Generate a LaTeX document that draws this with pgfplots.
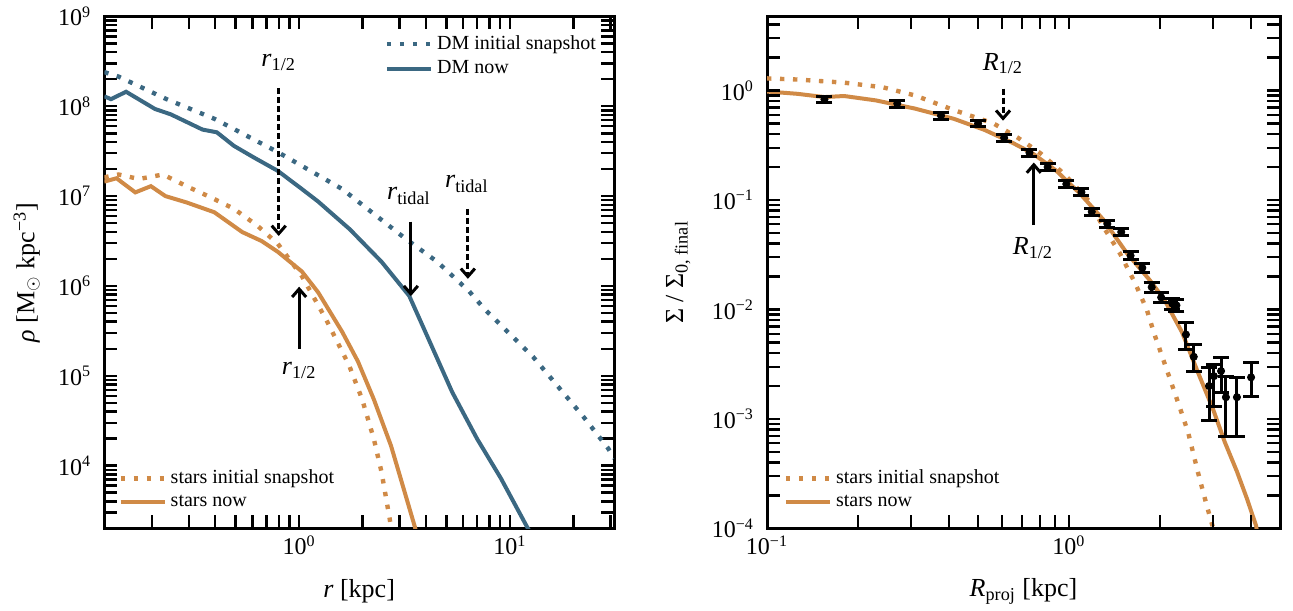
\documentclass[border=0pt]{standalone}
\usepackage{pgfplots}
\pgfplotsset{compat=1.18}
\usepackage{fontspec}
\setmainfont{Liberation Serif}
\usetikzlibrary{arrows.meta}
\definecolor{dmc}{RGB}{59,104,130}
\definecolor{stc}{RGB}{208,138,70}
\tikzset{
  solidl/.style={line width=2pt},
  dotl/.style={line width=2.2pt, dash pattern=on 2.2pt off 4.3pt},
  arr/.style={line width=1.5pt, -{Straight Barb[length=4pt,width=7pt]}},
  darr/.style={line width=1.5pt, dash pattern=on 3pt off 1.5pt, -{Straight Barb[length=4pt,width=7pt]}},
  annot/.style={font=\fontsize{13}{15}\selectfont},
  tk/.style={line width=1.2pt, black},
}
\begin{document}
\begin{tikzpicture}
\path (0,0) rectangle (646.5pt,305pt);
% ---------------- left panel: stars ----------------
\begin{loglogaxis}[
  scale only axis,
  at={(52.15pt,41pt)}, anchor=south west, width=254.85pt, height=256pt,
  xmin=0.119, xmax=31.2, ymin=2000, ymax=1e9,
  axis line style={line width=1.5pt},
  tick align=inside, major tick length=6.5pt, minor tick length=6.5pt,
  xtick style={line width=1.2pt, black}, ytick style={line width=1.2pt, black},
  tick label style={font=\fontsize{12}{14}\selectfont},
  yticklabel style={xshift=-3pt},
  xtick={1,10}, xticklabels={10\textsuperscript{0},10\textsuperscript{1}},
  minor xtick={0.2,0.3,0.4,0.5,0.6,0.7,0.8,0.9,2,3,4,5,6,7,8,9,20,30},
  ytick={1e4,1e5,1e6,1e7,1e8,1e9},
  yticklabels={10\textsuperscript{4},10\textsuperscript{5},10\textsuperscript{6},10\textsuperscript{7},10\textsuperscript{8},10\textsuperscript{9}},
  minor ytick={3e3,4e3,5e3,6e3,7e3,8e3,9e3,2e4,3e4,4e4,5e4,6e4,7e4,8e4,9e4,2e5,3e5,4e5,5e5,6e5,7e5,8e5,9e5,2e6,3e6,4e6,5e6,6e6,7e6,8e6,9e6,2e7,3e7,4e7,5e7,6e7,7e7,8e7,9e7,2e8,3e8,4e8,5e8,6e8,7e8,8e8,9e8},
  xlabel={\textit{r} [kpc]},
  ylabel={\textit{ρ} [M\textsubscript{$\odot$} kpc\textsuperscript{−3}]},
  xlabel style={font=\fontsize{13}{15}\selectfont, at={(axis description cs:0.5,-0.123)}, anchor=center},
  ylabel style={font=\fontsize{13}{15}\selectfont, at={(axis description cs:-0.152,0.5)}, anchor=center},
  legend cell align=left,
  legend image code/.code={\draw[#1] (0pt,0pt) -- (22pt,0pt);},
  legend style={draw=none, fill=none, font=\fontsize{10}{12}\selectfont, row sep=2pt, nodes={inner ysep=1pt}, at={(0.015,0.025)}, anchor=south west},
]
\addplot[stc, dotl] coordinates {
(0.119,1.62e7) (0.139,1.74e7) (0.174,1.55e7) (0.226,1.74e7) (0.292,1.29e7)
(0.378,9.77e6) (0.490,7.24e6) (0.634,4.68e6) (0.792,2.95e6) (1.03,1.29e6)
(1.34,4.27e5) (1.73,1.29e5) (1.99,5.5e4) (2.26,2.0e4) (2.46,8.51e3) (2.73,2.09e3) (2.8,1.5e3)};
\addlegendentry{stars initial snapshot}
\addplot[stc, solidl] coordinates {
(0.119,1.45e7) (0.136,1.58e7) (0.167,1.10e7) (0.198,1.29e7) (0.232,1.0e7)
(0.292,8.51e6) (0.396,6.61e6) (0.537,3.98e6) (0.664,3.16e6) (0.792,2.40e6)
(1.03,1.45e6) (1.23,8.51e5) (1.60,3.09e5) (1.90,1.45e5) (2.26,5.5e4)
(2.73,1.66e4) (3.03,7.24e3) (3.54,2.09e3) (3.6,1.8e3)};
\addlegendentry{stars now}
% tick marks on all four sides
\pgfplotsinvokeforeach{0.2,0.3,0.4,0.5,0.6,0.7,0.8,0.9,1,2,3,4,5,6,7,8,9,10,20,30}{
  \draw[tk] (axis cs:#1,2000) -- ([yshift=6.5pt]axis cs:#1,2000);
  \draw[tk] (axis cs:#1,1e9) -- ([yshift=-6.5pt]axis cs:#1,1e9);
}
\pgfplotsinvokeforeach{3e3,4e3,5e3,6e3,7e3,8e3,9e3,1e4,2e4,3e4,4e4,5e4,6e4,7e4,8e4,9e4,1e5,2e5,3e5,4e5,5e5,6e5,7e5,8e5,9e5,1e6,2e6,3e6,4e6,5e6,6e6,7e6,8e6,9e6,1e7,2e7,3e7,4e7,5e7,6e7,7e7,8e7,9e7,1e8,2e8,3e8,4e8,5e8,6e8,7e8,8e8,9e8}{
  \draw[tk] (axis cs:0.119,#1) -- ([xshift=6.5pt]axis cs:0.119,#1);
  \draw[tk] (axis cs:31.2,#1) -- ([xshift=-6.5pt]axis cs:31.2,#1);
}
\end{loglogaxis}
% ---------------- left panel: DM (overlay) ----------------
\begin{loglogaxis}[hide axis, scale only axis,
  at={(52.15pt,41pt)}, anchor=south west, width=254.85pt, height=256pt,
  xmin=0.119, xmax=31.2, ymin=2000, ymax=1e9,
  legend cell align=left,
  legend image code/.code={\draw[#1] (0pt,0pt) -- (22pt,0pt);},
  legend style={draw=none, fill=none, font=\fontsize{10}{12}\selectfont, row sep=2pt, nodes={inner ysep=1pt}, at={(0.985,0.975)}, anchor=north east},
]
\addplot[dmc, dotl] coordinates {
(0.119,2.40e8) (0.139,2.14e8) (0.235,1.20e8) (0.397,7.24e7) (0.792,3.09e7)
(1.60,1.20e7) (3.18,3.39e6) (4.52,1.86e6) (6.41,8.71e5) (7.60,5.50e5)
(12.9,1.62e5) (22.4,3.47e4) (29.3,1.55e4) (31.2,1.2e4)};
\addlegendentry{DM initial snapshot}
\addplot[dmc, solidl] coordinates {
(0.119,1.29e8) (0.128,1.20e8) (0.151,1.45e8) (0.207,9.33e7) (0.246,8.13e7)
(0.348,5.50e7) (0.407,5.13e7) (0.490,3.63e7) (0.610,2.69e7) (0.792,1.91e7)
(1.03,1.20e7) (1.23,8.71e6) (1.74,4.27e6) (2.46,1.86e6) (3.33,7.76e5)
(4.11,2.57e5) (5.32,6.61e4) (6.98,2.0e4) (9.06,7.24e3) (12.05,2.09e3) (12.5,1.8e3)};
\addlegendentry{DM now}
% annotations
\draw[darr] (axis cs:0.80,1.6e8) -- (axis cs:0.80,3.6e6);
\node[annot] at (axis cs:0.80,3.1e8) {\textit{r}\textsubscript{1/2}};
\draw[arr] (axis cs:1.0,2.0e5) -- (axis cs:1.0,9.8e5);
\node[annot] at (axis cs:1.0,1.14e5) {\textit{r}\textsubscript{1/2}};
\draw[arr] (axis cs:3.39,5.2e6) -- (axis cs:3.39,7.7e5);
\node[annot] at (axis cs:3.32,1.0e7) {\textit{r}\textsubscript{tidal}};
\draw[darr] (axis cs:6.32,7.2e6) -- (axis cs:6.32,1.2e6);
\node[annot] at (axis cs:6.25,1.36e7) {\textit{r}\textsubscript{tidal}};
\end{loglogaxis}
% ---------------- right panel ----------------
\begin{loglogaxis}[scale only axis,
  at={(383.5pt,41pt)}, anchor=south west, width=256.5pt, height=256pt,
  xmin=0.1, xmax=5, ymin=1e-4, ymax=4.75,
  axis line style={line width=1.5pt},
  tick align=inside, major tick length=6.5pt, minor tick length=6.5pt,
  xtick style={line width=1.2pt, black}, ytick style={line width=1.2pt, black},
  tick label style={font=\fontsize{12}{14}\selectfont},
  yticklabel style={xshift=-3pt},
  xtick={0.1,1}, xticklabels={10\textsuperscript{−1},10\textsuperscript{0}},
  minor xtick={0.2,0.3,0.4,0.5,0.6,0.7,0.8,0.9,2,3,4},
  ytick={1e-4,1e-3,1e-2,1e-1,1},
  yticklabels={10\textsuperscript{−4},10\textsuperscript{−3},10\textsuperscript{−2},10\textsuperscript{−1},10\textsuperscript{0}},
  minor ytick={2e-4,3e-4,4e-4,5e-4,6e-4,7e-4,8e-4,9e-4,2e-3,3e-3,4e-3,5e-3,6e-3,7e-3,8e-3,9e-3,2e-2,3e-2,4e-2,5e-2,6e-2,7e-2,8e-2,9e-2,0.2,0.3,0.4,0.5,0.6,0.7,0.8,0.9,2,3,4},
  xlabel={\textit{R}\textsubscript{proj} [kpc]},
  ylabel={Σ / Σ\textsubscript{0, final}},
  xlabel style={font=\fontsize{13}{15}\selectfont, at={(axis description cs:0.5,-0.123)}, anchor=center},
  ylabel style={font=\fontsize{13}{15}\selectfont, at={(axis description cs:-0.173,0.5)}, anchor=center},
  legend cell align=left,
  legend image code/.code={\draw[#1] (0pt,0pt) -- (22pt,0pt);},
  legend style={draw=none, fill=none, font=\fontsize{10}{12}\selectfont, row sep=2pt, nodes={inner ysep=1pt}, at={(0.02,0.025)}, anchor=south west},
]
\addplot[stc, dotl] coordinates {
(0.1,1.29) (0.126,1.26) (0.180,1.18) (0.242,1.07) (0.309,0.902) (0.417,0.661)
(0.562,0.501) (0.676,0.372) (0.802,0.269) (0.962,0.174) (1.156,0.1) (1.30,0.0569)
(1.47,0.0331) (1.65,0.0178) (1.81,0.01) (1.91,0.00617) (2.09,0.00302) (2.26,0.00162)
(2.48,7.59e-4) (2.67,3.31e-4) (2.86,1.62e-4) (2.99,1.05e-4) (3.02,9e-5)};
\addlegendentry{stars initial snapshot}
\addplot[stc, solidl] coordinates {
(0.1,0.98) (0.126,0.933) (0.155,0.871) (0.180,0.891) (0.229,0.813) (0.309,0.684)
(0.417,0.550) (0.525,0.437) (0.653,0.331) (0.759,0.266) (0.906,0.186) (1.086,0.115)
(1.30,0.0661) (1.55,0.0331) (1.85,0.0186) (2.07,0.0123) (2.37,0.00617) (2.67,0.00269)
(3.0,0.00123) (3.28,6.17e-4) (3.60,3.31e-4) (3.89,1.86e-4) (4.17,1.05e-4) (4.2,9e-5)};
\addlegendentry{stars now}
\addplot[black, only marks, mark=*, mark size=1.8pt, forget plot,
  error bars/.cd, y dir=both, y explicit,
  error bar style={line width=1.5pt},
  error mark options={rotate=90, mark size=4pt, line width=1.5pt}] coordinates {
(0.155,0.83) +- (0,0.06)
(0.27,0.76) +- (0,0.055)
(0.377,0.59) +- (0,0.042)
(0.50,0.50) +- (0,0.035)
(0.61,0.37) +- (0,0.026)
(0.74,0.27) +- (0,0.019)
(0.85,0.20) +- (0,0.014)
(0.98,0.14) +- (0,0.01)
(1.10,0.118) +- (0,0.0085)
(1.19,0.078) +- (0,0.0058)
(1.34,0.0605) +- (0,0.0046)
(1.49,0.051) +- (0,0.004)
(1.60,0.031) +- (0,0.0026)
(1.75,0.024) +- (0,0.0021)
(1.88,0.016) +- (0,0.0016)
(2.02,0.0129) +- (0,0.0014)
(2.20,0.0113) +- (0,0.0014)
(2.27,0.0109) +- (0,0.0014)
(2.44,0.0059) += (0,0.0017) -= (0,0.0016)
(2.59,0.0037) += (0,0.0011) -= (0,0.0010)
(2.91,0.0020) += (0,0.00095) -= (0,0.00104)
(3.02,0.00246) += (0,0.0007) -= (0,0.00115)
(3.19,0.00274) += (0,0.00092) -= (0,0.00098)
(3.31,0.00158) += (0,0.00088) -= (0,0.00089)
(3.60,0.00158) += (0,0.00083) -= (0,0.00089)
(4.01,0.0024) += (0,0.0009) -= (0,0.00078)
};
\draw[darr] (axis cs:0.605,1.04) -- (axis cs:0.605,0.53);
\node[annot] at (axis cs:0.604,1.76) {\textit{R}\textsubscript{1/2}};
\draw[arr] (axis cs:0.765,0.059) -- (axis cs:0.765,0.22);
\node[annot] at (axis cs:0.76,0.0366) {\textit{R}\textsubscript{1/2}};
% tick marks on all four sides
\pgfplotsinvokeforeach{0.2,0.3,0.4,0.5,0.6,0.7,0.8,0.9,1,2,3,4}{
  \draw[tk] (axis cs:#1,1e-4) -- ([yshift=6.5pt]axis cs:#1,1e-4);
  \draw[tk] (axis cs:#1,4.75) -- ([yshift=-6.5pt]axis cs:#1,4.75);
}
\pgfplotsinvokeforeach{2e-4,3e-4,4e-4,5e-4,6e-4,7e-4,8e-4,9e-4,1e-3,2e-3,3e-3,4e-3,5e-3,6e-3,7e-3,8e-3,9e-3,1e-2,2e-2,3e-2,4e-2,5e-2,6e-2,7e-2,8e-2,9e-2,0.1,0.2,0.3,0.4,0.5,0.6,0.7,0.8,0.9,1,2,3,4}{
  \draw[tk] (axis cs:0.1,#1) -- ([xshift=6.5pt]axis cs:0.1,#1);
  \draw[tk] (axis cs:5,#1) -- ([xshift=-6.5pt]axis cs:5,#1);
}
\end{loglogaxis}
\end{tikzpicture}
\end{document}
